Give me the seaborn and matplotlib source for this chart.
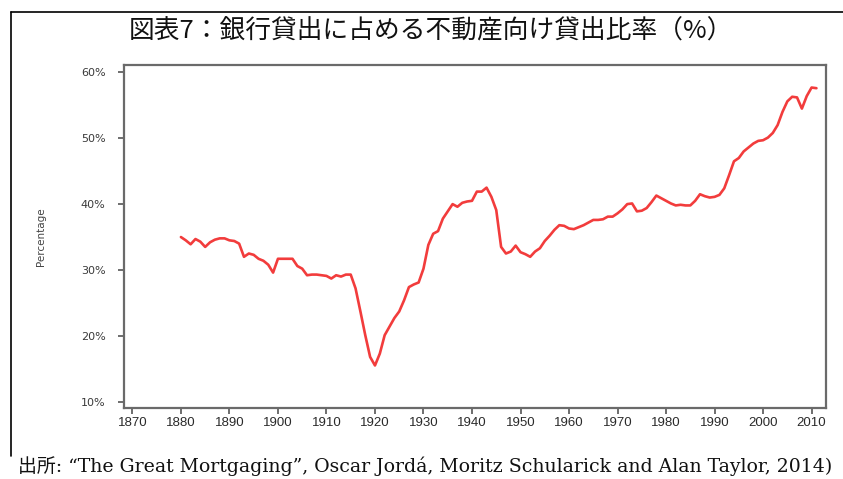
import numpy as np
import pandas as pd
import matplotlib
matplotlib.use('Agg')
import matplotlib.pyplot as plt
from matplotlib.lines import Line2D
from matplotlib.ticker import FuncFormatter
import seaborn as sns

# share of real estate lending in total bank lending (%), 1880-2011
years = list(range(1880, 2012))
share = [
    35.0, 34.5, 33.9, 34.7, 34.3, 33.5, 34.2, 34.6, 34.8, 34.8,  # 1880s
    34.5, 34.4, 34.0, 32.0, 32.5, 32.3, 31.7, 31.4, 30.8, 29.6,  # 1890s
    31.7, 31.7, 31.7, 31.7, 30.6, 30.2, 29.2, 29.3, 29.3, 29.2,  # 1900s
    29.1, 28.7, 29.2, 29.0, 29.3, 29.3, 27.2, 23.7, 20.1, 16.8,  # 1910s
    15.5, 17.3, 20.1, 21.4, 22.7, 23.7, 25.4, 27.4, 27.8, 28.1,  # 1920s
    30.2, 33.8, 35.5, 35.9, 37.8, 38.9, 40.0, 39.6, 40.2, 40.4,  # 1930s
    40.5, 41.9, 41.9, 42.5, 41.1, 39.1, 33.5, 32.5, 32.8, 33.7,  # 1940s
    32.7, 32.4, 32.0, 32.8, 33.3, 34.4, 35.2, 36.1, 36.8, 36.7,  # 1950s
    36.3, 36.2, 36.5, 36.8, 37.2, 37.6, 37.6, 37.7, 38.1, 38.1,  # 1960s
    38.6, 39.2, 40.0, 40.1, 38.9, 39.0, 39.4, 40.3, 41.3, 40.9,  # 1970s
    40.5, 40.1, 39.8, 39.9, 39.8, 39.8, 40.5, 41.5, 41.2, 41.0,  # 1980s
    41.1, 41.4, 42.4, 44.4, 46.5, 47.0, 48.0, 48.6, 49.2, 49.6,  # 1990s
    49.7, 50.1, 50.8, 52.0, 54.0, 55.6, 56.3, 56.2, 54.5, 56.4,  # 2000s
    57.7, 57.6,                                                  # 2010s
]
x_ticks = list(range(1870, 2011, 10))
y_ticks = [10, 20, 30, 40, 50, 60]

title = '図表7：銀行貸出に占める不動産向け貸出比率（%）'
source = '出所: “The Great Mortgaging”, Oscar Jordá, Moritz Schularick and Alan Taylor, 2014)'

df = pd.DataFrame({'year': years, 'share': share})

sns.set_style('white')
plt.rcParams['font.family'] = ['DejaVu Sans', 'Noto Sans CJK JP']

fig = plt.figure(figsize=(8.43, 4.79), dpi=100)
ax = fig.add_axes([0.1467, 0.149, 0.8333, 0.715])

sns.lineplot(data=df, x='year', y='share', ax=ax, color='#f23c3c', linewidth=1.9)

ax.set_xlim(1868.2, 2013)
ax.set_ylim(9.1, 61.1)
ax.set_xticks(x_ticks)
ax.set_yticks(y_ticks)
ax.yaxis.set_major_formatter(FuncFormatter(lambda v, p: f'{v:.0f}%'))

for s in ax.spines.values():
    s.set_color('#6a6a6a')
    s.set_linewidth(1.6)

ax.tick_params(axis='both', which='major', direction='out', length=4, width=1.2,
               color='#555555', bottom=True, left=True)
ax.tick_params(axis='x', pad=3, labelsize=9.5, labelcolor='#2a2a2a')
ax.tick_params(axis='y', pad=9, labelsize=8, labelcolor='#3a3a3a')
for lab in ax.get_xticklabels():
    lab.set_family(['Liberation Sans Narrow', 'Liberation Sans'])

ax.set_xlabel('')
ax.set_ylabel('Percentage', fontsize=7.5, color='#444444')
ax.yaxis.set_label_coords(-0.111, 0.5)

# outer frame (top and left only)
fig.add_artist(Line2D([0.013, 1.0], [0.975, 0.975], color='black', linewidth=1.2))
fig.add_artist(Line2D([0.013, 0.013], [0.975, 0.048], color='black', linewidth=1.2))

fig.text(0.511, 0.935, title, ha='center', va='center', fontsize=18.5,
         family=['Noto Sans CJK JP'], color='#111111')
fig.text(0.021, 0.027, source, ha='left', va='center', fontsize=13.6,
         family=['DejaVu Serif', 'Noto Sans CJK JP'], color='#111111')

fig.savefig('out.png', dpi=100)
